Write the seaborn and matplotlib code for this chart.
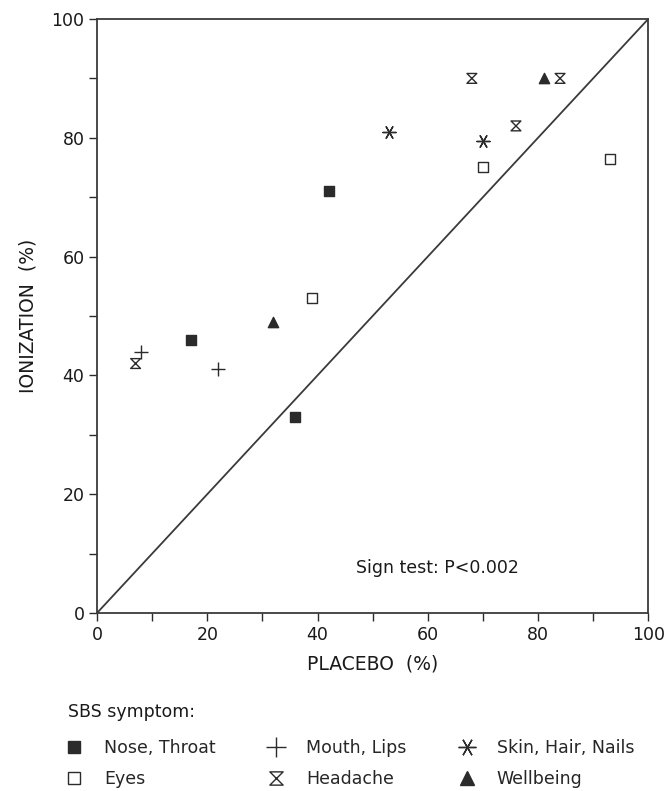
import matplotlib

matplotlib.use("Agg")

import matplotlib.pyplot as plt
import pandas as pd
import seaborn as sns
from matplotlib.lines import Line2D
from matplotlib.path import Path

# values (placebo %, ionization %)
SYMPTOMS = ["Nose, Throat", "Eyes", "Mouth, Lips", "Headache", "Skin, Hair, Nails", "Wellbeing"]
nose_x = [17, 36, 42]
nose_y = [46, 33, 71]
eyes_x = [39, 70, 93]
eyes_y = [53, 75, 76.5]
mouth_x = [8, 22]
mouth_y = [44, 41]
headache_x = [7, 68, 76, 84]
headache_y = [42, 90, 82, 90]
skin_x = [53, 70]
skin_y = [81, 79.5]
wellbeing_x = [32, 81]
wellbeing_y = [49, 90]
ticks = [0, 20, 40, 60, 80, 100]

INK = "#2b2b2b"
TEXT = "#1a1a1a"

hourglass = Path(
    [(-1, 1), (1, 1), (-1, -1), (1, -1), (-1, 1)],
    [Path.MOVETO, Path.LINETO, Path.LINETO, Path.LINETO, Path.CLOSEPOLY],
)

# marker, face colour, size (points^2)
STYLE = {
    "Nose, Throat": ("s", INK, 45),
    "Eyes": ("s", "white", 45),
    "Mouth, Lips": ("+", INK, 110),
    "Headache": (hourglass, "none", 50),
    "Skin, Hair, Nails": ((6, 2, 30), INK, 90),
    "Wellbeing": ("^", INK, 55),
}


def build_frame() -> pd.DataFrame:
    parts = [
        ("Nose, Throat", nose_x, nose_y),
        ("Eyes", eyes_x, eyes_y),
        ("Mouth, Lips", mouth_x, mouth_y),
        ("Headache", headache_x, headache_y),
        ("Skin, Hair, Nails", skin_x, skin_y),
        ("Wellbeing", wellbeing_x, wellbeing_y),
    ]
    rows = []
    for name, xs, ys in parts:
        for x, y in zip(xs, ys):
            rows.append({"symptom": name, "placebo": x, "ionization": y})
    return pd.DataFrame(rows)


def main() -> None:
    sns.set_theme(style="ticks")
    plt.rcParams["font.family"] = ["DejaVu Sans"]

    data = build_frame()
    fig, ax = plt.subplots(figsize=(6.69, 7.91), dpi=100)
    fig.subplots_adjust(left=0.145, right=0.969, top=0.976, bottom=0.225)

    ax.plot([0, 100], [0, 100], color="#3a3a3a", lw=1.3, zorder=1)

    for name in SYMPTOMS:
        marker, face, size = STYLE[name]
        group = data[data["symptom"] == name]
        sns.scatterplot(
            data=group,
            x="placebo",
            y="ionization",
            marker=marker,
            s=size,
            facecolor=face,
            edgecolor=INK,
            linewidth=1.0,
            color=INK,
            ax=ax,
            zorder=3,
            legend=False,
        )

    ax.set_xlim(0, 100)
    ax.set_ylim(0, 100)
    ax.set_xticks(ticks)
    ax.set_yticks(ticks)
    ax.set_xticks(range(10, 100, 20), minor=True)
    ax.set_yticks(range(10, 100, 20), minor=True)
    ax.tick_params(which="both", direction="out", length=6, width=1.0, color=INK,
                   labelsize=12.5, labelcolor=TEXT, pad=3)
    for spine in ax.spines.values():
        spine.set_color("#3a3a3a")
        spine.set_linewidth(1.3)

    ax.set_xlabel("PLACEBO  (%)", fontsize=13.5, color=TEXT, labelpad=8)
    ax.set_ylabel("IONIZATION  (%)", fontsize=13.5, color=TEXT, labelpad=10)
    ax.text(47, 7.6, "Sign test: P<0.002", fontsize=12.5, color=TEXT,
            ha="left", va="center")

    order = ["Nose, Throat", "Eyes", "Mouth, Lips", "Headache", "Skin, Hair, Nails", "Wellbeing"]
    handles = []
    for name in order:
        marker, face, size = STYLE[name]
        handles.append(Line2D([], [], linestyle="none", marker=marker,
                              markersize=size ** 0.5 * 1.35, markerfacecolor=face,
                              markeredgecolor=INK, markeredgewidth=1.0))
    fig.text(0.102, 1 - 712 / 791, "SBS symptom:", fontsize=12.5, color=TEXT,
             ha="left", va="center")
    fig.legend(
        handles,
        order,
        ncol=3,
        loc="upper left",
        bbox_to_anchor=(0.075, 0.086),
        frameon=False,
        fontsize=12.5,
        handlelength=1.0,
        handletextpad=1.2,
        columnspacing=3.0,
        labelspacing=0.78,
    )

    fig.savefig("out.png", dpi=100)
    plt.close(fig)


if __name__ == "__main__":
    main()
